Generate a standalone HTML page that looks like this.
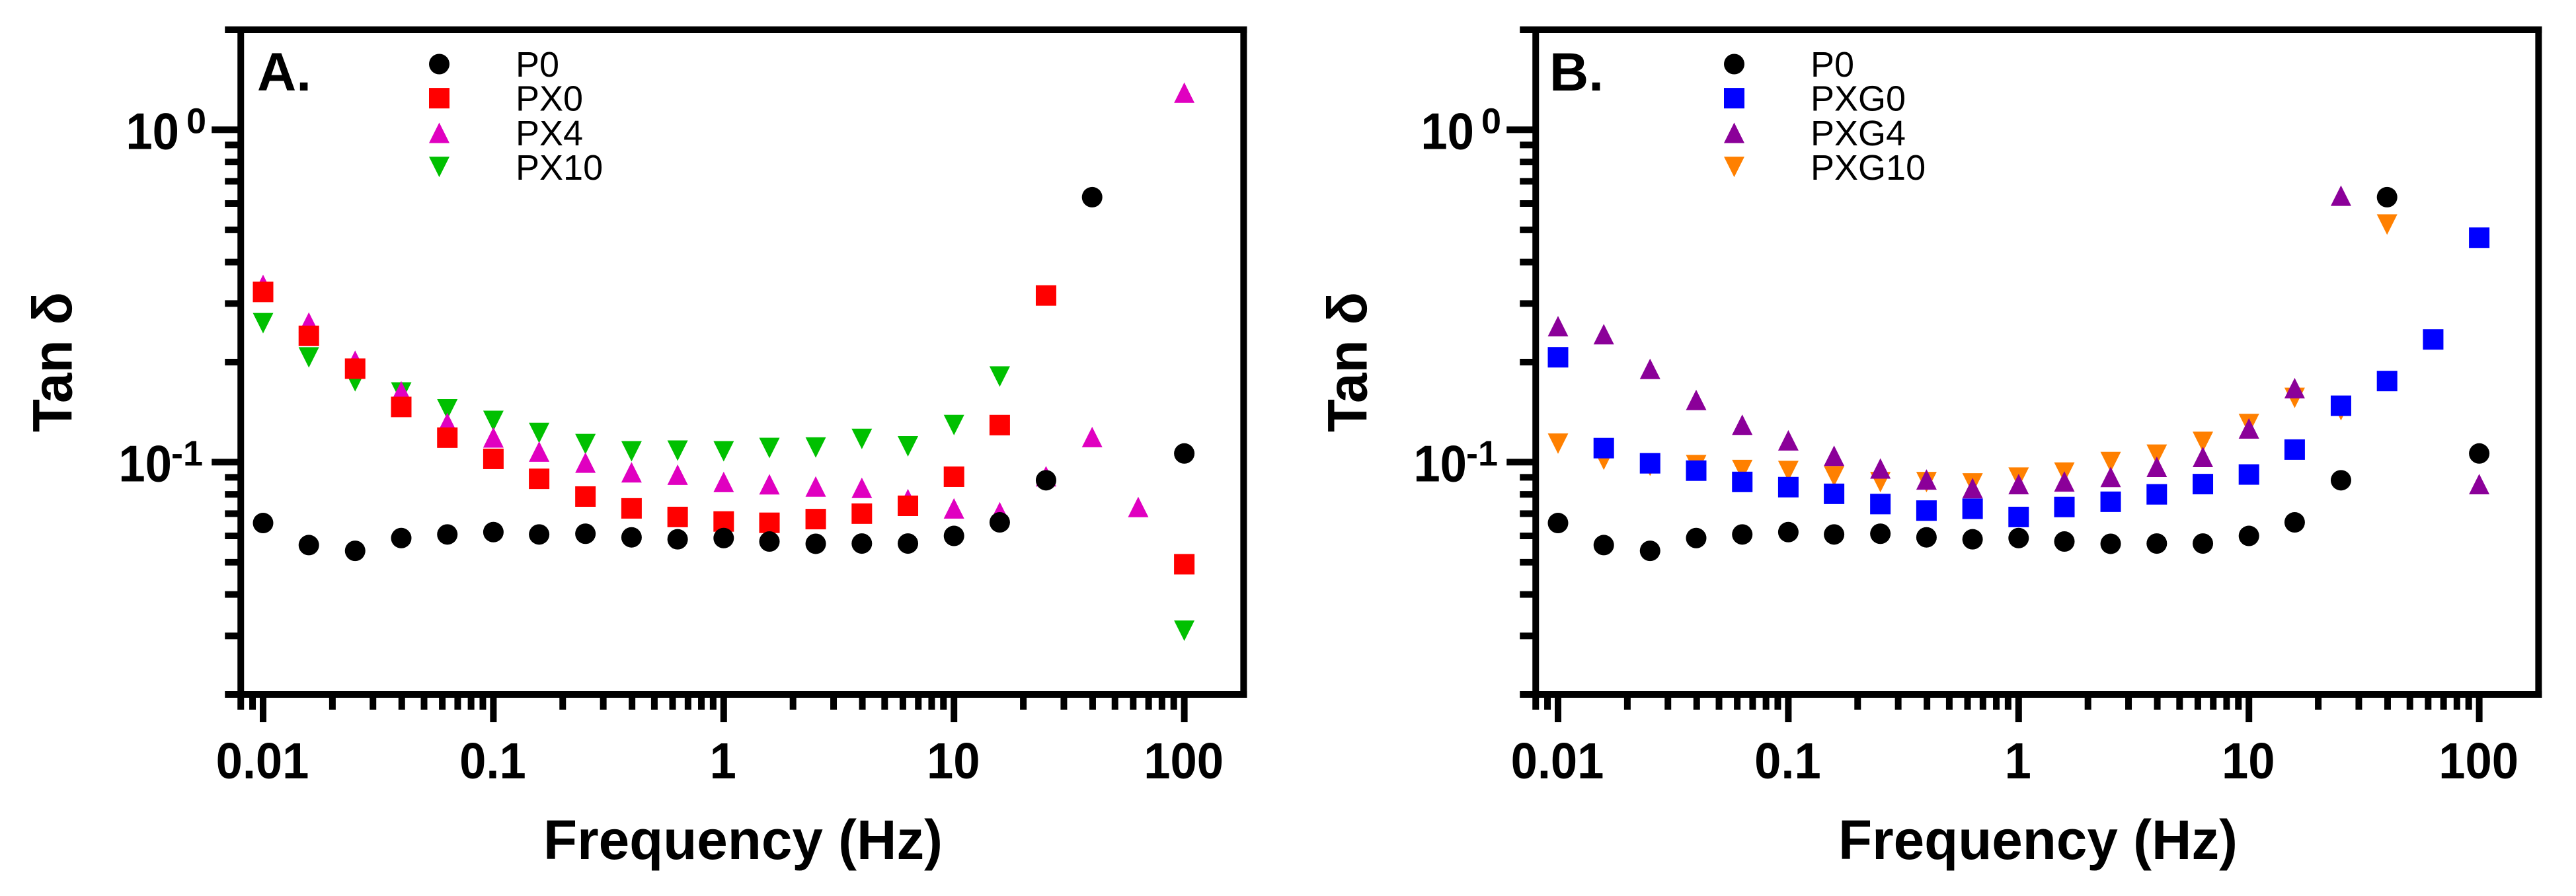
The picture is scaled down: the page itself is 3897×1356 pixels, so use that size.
<!DOCTYPE html>
<html lang="en">
<head>
<meta charset="utf-8">
<title>Tan delta versus frequency</title>
<style>
html,body{margin:0;padding:0;background:#fff;}
body{width:3897px;height:1356px;overflow:hidden;}
svg{display:block;}
text{font-family:"Liberation Sans",Arial,sans-serif;fill:#000;}
.b{font-weight:700;}
</style>
</head>
<body>
<svg id="chart" xmlns="http://www.w3.org/2000/svg" width="3897" height="1356" viewBox="0 0 3897 1356">
  <rect x="0" y="0" width="3897" height="1356" fill="#ffffff"/>
  <g id="panel-a">
    <text class="b" x="389" y="137" font-size="82">A.</text>
    <text class="b" x="1124" y="1300" font-size="84" text-anchor="middle" textLength="604" lengthAdjust="spacingAndGlyphs">Frequency (Hz)</text>
    <text class="b" x="108.5" y="548" font-size="84" text-anchor="middle" textLength="212" lengthAdjust="spacingAndGlyphs" transform="rotate(-90 108.5 548)">Tan δ</text>
  </g>
  <g id="panel-b">
    <text class="b" x="2344" y="137" font-size="82">B.</text>
    <text class="b" x="3083" y="1300" font-size="84" text-anchor="middle" textLength="604" lengthAdjust="spacingAndGlyphs">Frequency (Hz)</text>
    <text class="b" x="2067.5" y="548" font-size="84" text-anchor="middle" textLength="212" lengthAdjust="spacingAndGlyphs" transform="rotate(-90 2067.5 548)">Tan δ</text>
  </g>
</svg>
<script>
// Shared frequency categories (Hz)
const frequency = [0.01,0.0158,0.0251,0.0398,0.0631,0.1,0.158,0.251,0.398,0.631,1,1.58,2.51,3.98,6.31,10,15.8,25.1,39.8,63.1,100];

// Series values (Tan delta)
const p0Values = [0.0656,0.0563,0.0541,0.0591,0.0606,0.0616,0.0606,0.0609,0.0594,0.0586,0.0591,0.0577,0.0568,0.0569,0.0569,0.0600,0.0659,0.0882,0.627,null,0.1062];
const px0Values = [0.3252,0.2399,0.1911,0.1466,0.1185,0.1023,0.0891,0.0788,0.0726,0.0684,0.0663,0.0657,0.0674,0.0700,0.0739,0.0904,0.1293,0.3173,null,null,0.0493];
const px4Values = [0.3415,0.2630,0.2020,0.1633,0.1312,0.1187,0.1076,0.0997,0.0932,0.0917,0.0872,0.0858,0.0845,0.0837,0.0774,0.0726,0.0707,0.0907,0.1190,0.0733,1.2931];
const px10Values = [0.2619,0.2066,0.1750,0.1620,0.1442,0.1331,0.1224,0.1133,0.1078,0.1083,0.1078,0.1103,0.1107,0.1175,0.1116,0.1293,0.1809,null,null,null,0.0311];
const pxg0Values = [0.2068,0.1102,0.0992,0.0943,0.0872,0.0841,0.0803,0.0748,0.0715,0.0724,0.0684,0.0733,0.0760,0.0800,0.0859,0.0918,0.1091,0.1478,0.1754,0.2340,0.4735];
const pxg4Values = [0.2565,0.2427,0.1908,0.1539,0.1296,0.1163,0.1045,0.0957,0.0887,0.0835,0.0859,0.0875,0.0903,0.0968,0.1037,0.1263,0.1670,0.6336,null,null,0.0859];
const pxg10Values = [0.1137,0.1017,0.0975,0.0979,0.0947,0.0940,0.0907,0.0871,0.0871,0.0863,0.0898,0.0930,0.1001,0.1053,0.1151,0.1302,0.1561,0.1433,0.5186,null,null];

// Tick values and labels
const xMajorTicks = [0.01,0.1,1,10,100];
const xMajorLabels = ["0.01","0.1","1","10","100"];
const xMinorTicks = [0.008,0.009,0.02,0.03,0.04,0.05,0.06,0.07,0.08,0.09,0.2,0.3,0.4,0.5,0.6,0.7,0.8,0.9,2,3,4,5,6,7,8,9,20,30,40,50,60,70,80,90];
const yMajorTicks = [1,0.1];
const yMajorBases = ["10","10"];
const yMajorExponents = ["0","-1"];
const yMinorTicks = [2,0.9,0.8,0.7,0.6,0.5,0.4,0.3,0.2,0.09,0.08,0.07,0.06,0.05,0.04,0.03,0.02];

// Axis domain limits
const xDomainMin = 0.008;
const xDomainMax = 181;
const yDomainMin = 0.02;
const yDomainMax = 2;

const SVGNS = 'http://www.w3.org/2000/svg';
const MARK = 31;
const COLORS = {black:'#000000',red:'#ff0000',magenta:'#e000c0',green:'#00c000',blue:'#0000ff',purple:'#8b0099',orange:'#ff8000'};

function xScale(f, off){ return off + 398 + 348.4 * (Math.log10(f) + 2); }
function yScale(v){ return 45 + 503 * (Math.log10(yDomainMax) - Math.log10(v)); }

function drawMark(parent, shape, x, y, color, name){
  const h = MARK / 2;
  let el;
  if (shape === 'circle') {
    el = document.createElementNS(SVGNS, 'circle');
    el.setAttribute('cx', x);
    el.setAttribute('cy', y);
    el.setAttribute('r', h);
  } else if (shape === 'square') {
    el = document.createElementNS(SVGNS, 'rect');
    el.setAttribute('x', x - h);
    el.setAttribute('y', y - h);
    el.setAttribute('width', MARK);
    el.setAttribute('height', MARK);
  } else {
    el = document.createElementNS(SVGNS, 'polygon');
    const s = shape === 'up' ? 1 : -1;
    el.setAttribute('points', x + ',' + (y - s * h) + ' ' + (x + h) + ',' + (y + s * h) + ' ' + (x - h) + ',' + (y + s * h));
  }
  el.setAttribute('fill', color);
  
  
  parent.appendChild(el);
}

function drawLine(parent, x1, y1, x2, y2, w, name){
  const el = document.createElementNS(SVGNS, 'line');
  el.setAttribute('x1', x1);
  el.setAttribute('y1', y1);
  el.setAttribute('x2', x2);
  el.setAttribute('y2', y2);
  el.setAttribute('stroke', '#000');
  el.setAttribute('stroke-width', w);
  
  
  parent.appendChild(el);
}

function drawText(parent, str, x, y, size, anchor, bold, name, sx){
  const el = document.createElementNS(SVGNS, 'text');
  el.setAttribute('transform', 'translate(' + x + ' ' + y + ') scale(' + (sx || 1) + ' 1)');
  el.setAttribute('font-size', size);
  el.setAttribute('text-anchor', anchor);
  if (bold) el.setAttribute('class', 'b');
  
  
  el.textContent = str;
  parent.appendChild(el);
}

function drawAxes(parent, off, prefix){
  const left = xScale(xDomainMin, off);
  const right = xScale(xDomainMax, off);
  const top = yScale(yDomainMax);
  const bottom = yScale(yDomainMin);
  drawLine(parent, left - 5, top, right + 5, top, 10, prefix + '-top-border');
  drawLine(parent, left - 5, bottom, right + 5, bottom, 10, prefix + '-x-axis-line');
  drawLine(parent, left, top - 5, left, bottom + 5, 10, prefix + '-y-axis-line');
  drawLine(parent, right, top - 5, right, bottom + 5, 10, prefix + '-right-border');
  yMinorTicks.forEach(function(v){
    drawLine(parent, left - 24, yScale(v), left, yScale(v), 10, prefix + '-y-minor-tick');
  });
  yMajorTicks.forEach(function(v, i){
    drawLine(parent, left - 44, yScale(v), left, yScale(v), 10, prefix + '-y-major-tick');
    const shift = i === 0 ? 0 : -11;
    drawText(parent, yMajorBases[i], off + 271 + shift, yScale(v) + 29, 78, 'end', true, prefix + '-y-tick-label-base', 0.93);
    drawText(parent, yMajorExponents[i], off + 312 + (i === 0 ? 0 : -5), yScale(v) + 5, 54, 'end', true, prefix + '-y-tick-label-exponent', 1);
  });
  xMinorTicks.forEach(function(f){
    drawLine(parent, xScale(f, off), bottom + 5, xScale(f, off), bottom + 23, 10, prefix + '-x-minor-tick');
  });
  xMajorTicks.forEach(function(f, i){
    drawLine(parent, xScale(f, off), bottom + 5, xScale(f, off), bottom + 42, 10, prefix + '-x-major-tick');
    drawText(parent, xMajorLabels[i], xScale(f, off) - 1, 1178, 77, 'middle', true, prefix + '-x-tick-label', 0.94);
  });
}

function drawSeries(parent, values, shape, color, off, name){
  values.forEach(function(v, i){
    if (v === null) return;
    drawMark(parent, shape, xScale(frequency[i], off), yScale(v), color, name + '-point');
  });
}

function drawLegend(parent, names, shapes, colors, off, prefix){
  const markerY = [97, 148.6, 201, 252.6];
  const textY = [116, 167.4, 220, 272];
  names.forEach(function(n, i){
    drawMark(parent, shapes[i], off + 664.5, markerY[i], colors[i], prefix + '-legend-marker');
    drawText(parent, n, off + 780, textY[i], 54, 'start', false, prefix + '-legend-label');
  });
}

const panelA = document.getElementById('panel-a');
const panelB = document.getElementById('panel-b');
const offsetB = 1959;

drawAxes(panelA, 0, 'panel-a');
drawSeries(panelA, px10Values, 'down', COLORS.green, 0, 'px10');
drawSeries(panelA, px4Values, 'up', COLORS.magenta, 0, 'px4');
drawSeries(panelA, px0Values, 'square', COLORS.red, 0, 'px0');
drawSeries(panelA, p0Values, 'circle', COLORS.black, 0, 'p0');
drawLegend(panelA, ['P0','PX0','PX4','PX10'], ['circle','square','up','down'], [COLORS.black,COLORS.red,COLORS.magenta,COLORS.green], 0, 'panel-a');

drawAxes(panelB, offsetB, 'panel-b');
drawSeries(panelB, pxg10Values, 'down', COLORS.orange, offsetB, 'pxg10');
drawSeries(panelB, pxg4Values, 'up', COLORS.purple, offsetB, 'pxg4');
drawSeries(panelB, pxg0Values, 'square', COLORS.blue, offsetB, 'pxg0');
drawSeries(panelB, p0Values, 'circle', COLORS.black, offsetB, 'p0');
drawLegend(panelB, ['P0','PXG0','PXG4','PXG10'], ['circle','square','up','down'], [COLORS.black,COLORS.blue,COLORS.purple,COLORS.orange], offsetB, 'panel-b');
</script>
</body>
</html>
